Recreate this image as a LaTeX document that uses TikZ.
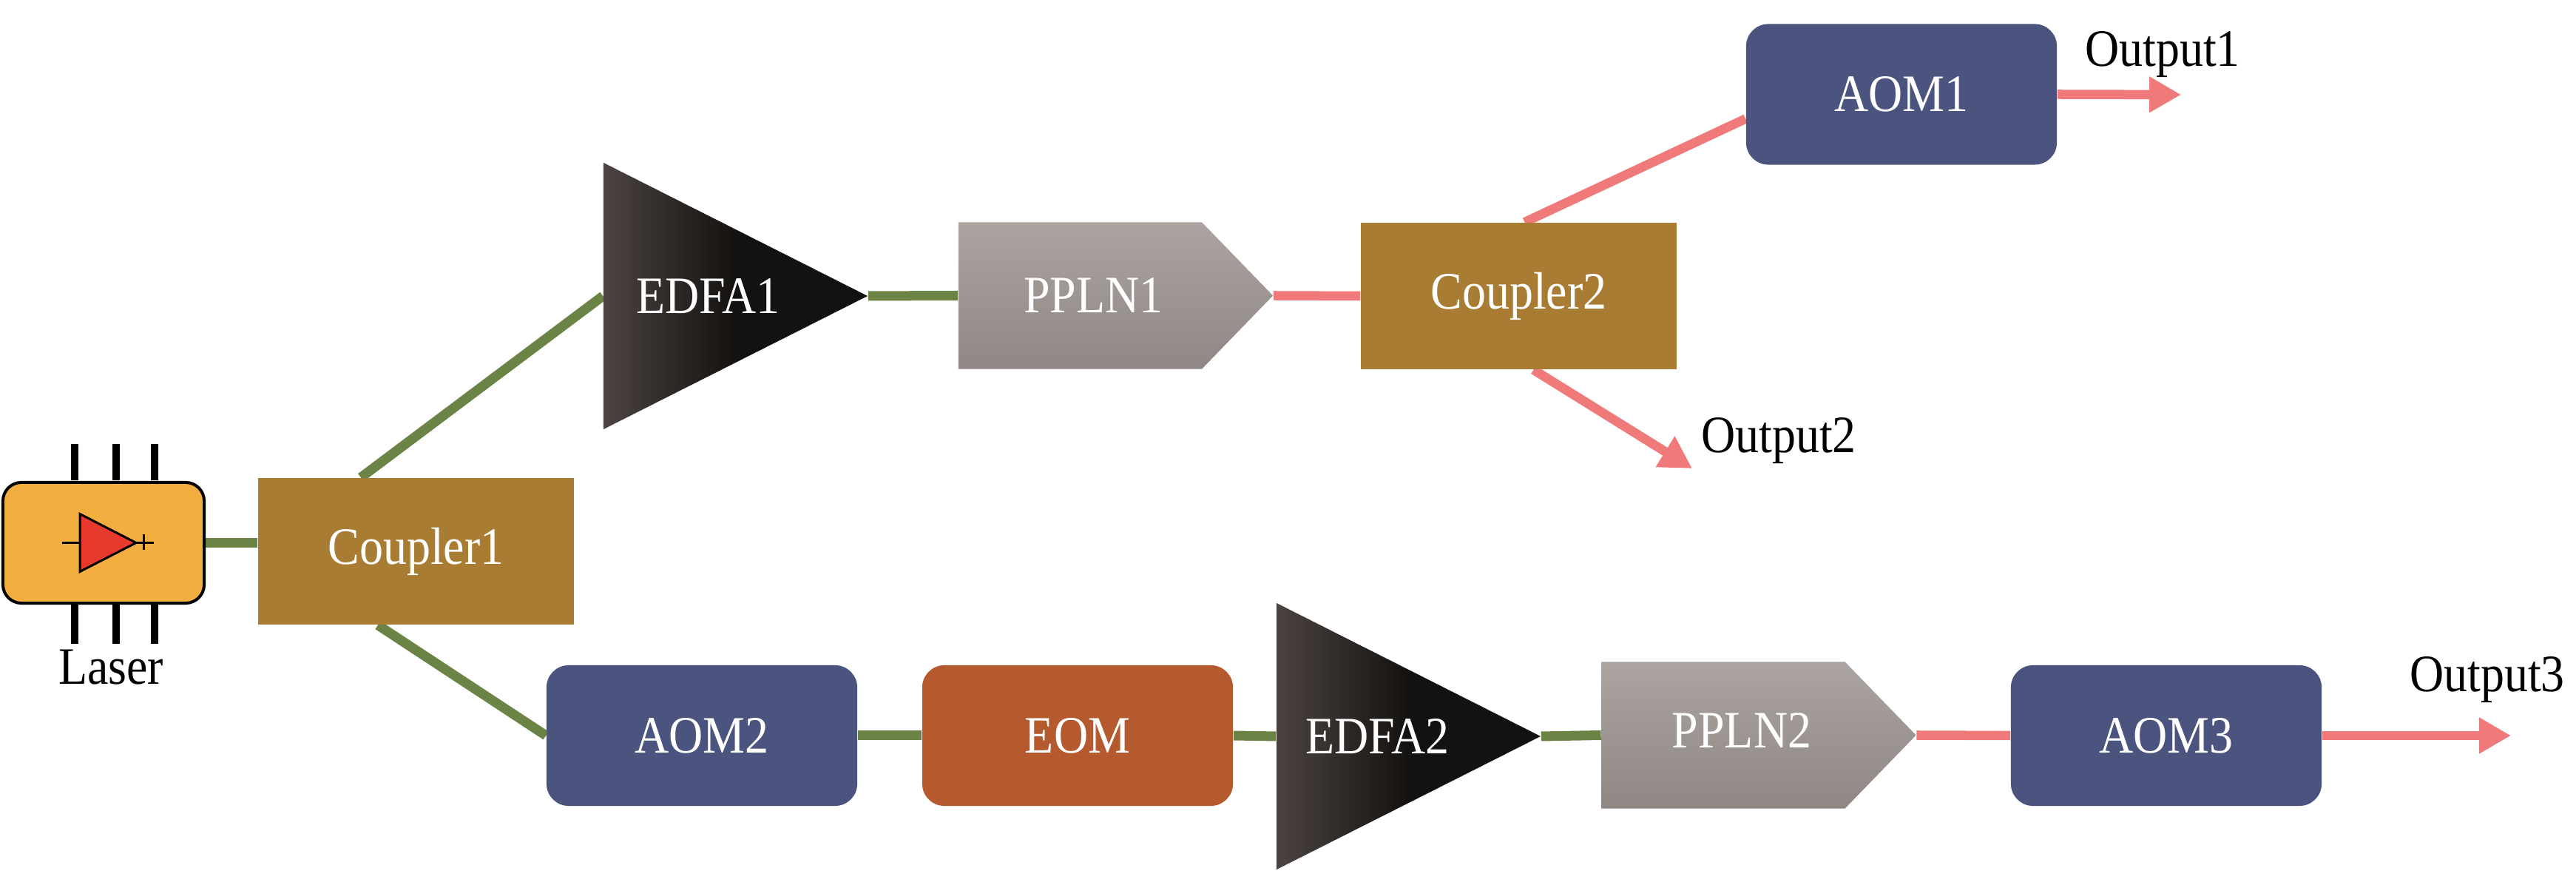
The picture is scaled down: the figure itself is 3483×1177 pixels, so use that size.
\documentclass[tikz,border=0pt]{standalone}
\usepackage{fontspec}
\setmainfont[FakeStretch=0.9]{Liberation Serif}
\usetikzlibrary{arrows.meta,backgrounds}

\definecolor{fibre}{RGB}{107,132,70}
\definecolor{beam}{RGB}{240,122,122}
\definecolor{couplerc}{RGB}{168,125,51}
\definecolor{aomc}{RGB}{74,84,126}
\definecolor{eomc}{RGB}{180,90,46}
\definecolor{laserc}{RGB}{242,174,63}
\definecolor{diodec}{RGB}{232,57,46}
\definecolor{pplntop}{RGB}{171,164,160}
\definecolor{pplnbot}{RGB}{143,135,132}
\definecolor{edfaleft}{RGB}{76,68,65}
\definecolor{edfaright}{RGB}{20,18,16}

\tikzset{
	txt/.style={font=\fontsize{20.2}{24}\selectfont, inner sep=0pt},
	wtxt/.style={txt, text=white},
	coupler/.style={wtxt, fill=couplerc, minimum width=4.27cm, minimum height=1.98cm},
	modbox/.style={wtxt, rounded corners=0.3cm, minimum width=4.2cm, minimum height=1.9cm},
	edfa/.style={wtxt, fill=white, minimum width=3.57cm, minimum height=3.6cm,
		path picture={\shade[left color=edfaleft, right color=edfaright, middle color=edfaright]
			(path picture bounding box.north west) -- (path picture bounding box.east)
			-- (path picture bounding box.south west) -- cycle;}},
	ppln/.style={wtxt, fill=white, minimum width=4.25cm, minimum height=1.98cm,
		path picture={\shade[top color=pplntop, bottom color=pplnbot]
			(path picture bounding box.north west) -- ([xshift=-0.96cm]path picture bounding box.north east)
			-- (path picture bounding box.east) -- ([xshift=-0.96cm]path picture bounding box.south east)
			-- (path picture bounding box.south west) -- cycle;}},
	fibre line/.style={draw=fibre, line width=0.13cm},
	beam line/.style={draw=beam, line width=0.125cm},
	out arrow/.style={beam line, -{Triangle[length=0.43cm,width=0.46cm]}},
}

\begin{document}
\begin{tikzpicture}[x=0.01cm, y=-0.01cm]
	\useasboundingbox (0,0) rectangle (3483,1177);

	% laser
	\node[draw, line width=0.04cm, fill=laserc, rounded corners=0.25cm, minimum width=2.72cm, minimum height=1.63cm] (laser) at (140,733.5) {};
	\begin{scope}[shift={(laser.center)}]
		\foreach \px in {-39,17,69} {
			\draw[line width=0.09cm] (\px,-84) -- (\px,-133.5);
			\draw[line width=0.09cm] (\px,84) -- (\px,136.5);
		}
		\draw[fill=diodec, line width=0.03cm] (-32,-39) -- (44,0) -- (-32,39) -- cycle;
		\draw[line width=0.03cm] (-56,0) -- (-32,0) (44,0) -- (68,0) (54,-11) -- (54,10);
	\end{scope}
	\node[txt, anchor=base] (laserlab) at (150,925) {Laser};

	% upper branch
	\node[coupler] (coupler1) at (562.5,745) {Coupler1};
	\node[edfa, label={[wtxt, xshift=-0.37cm]center:EDFA1}] (edfa1) at (994.5,400) {};
	\node[ppln, label={[wtxt, xshift=-0.3cm]center:PPLN1}] (ppln1) at (1508.5,399.5) {};
	\node[coupler] (coupler2) at (2053.5,400) {Coupler2};
	\node[modbox, fill=aomc] (aom1) at (2571,127.5) {AOM1};

	% lower branch
	\node[modbox, fill=aomc] (aom2) at (949,994) {AOM2};
	\node[modbox, fill=eomc] (eom) at (1457,994) {EOM};
	\node[edfa, label={[wtxt, xshift=-0.42cm]center:EDFA2}] (edfa2) at (1904.5,995) {};
	\node[ppln, label={[wtxt, xshift=-0.23cm, yshift=0.07cm]center:PPLN2}] (ppln2) at (2378,993.5) {};
	\node[modbox, fill=aomc] (aom3) at (2929,994) {AOM3};

	% outputs
	\coordinate (out1) at (2949,128);
	\coordinate (out2) at (2288,633);
	\coordinate (out3) at (3395,994);
	\node[txt, anchor=base] (lab1) at (2924,90) {Output1};
	\node[txt, anchor=base] (lab2) at (2405,612) {Output2};
	\node[txt, anchor=base] (lab3) at (3363,935) {Output3};

	\begin{pgfonlayer}{background}
		\draw[fibre line] (laser.east) -- (laser.east -| coupler1.west);
		\draw[fibre line] ([xshift=-0.745cm]coupler1.north) -- (edfa1.west);
		\draw[fibre line] ([xshift=-0.515cm]coupler1.south) -- (aom2.west);
		\draw[fibre line] (edfa1.east) -- (ppln1.west);
		\draw[fibre line] (aom2.east) -- (eom.west);
		\draw[fibre line] (eom.east) -- (edfa2.west);
		\draw[fibre line] (edfa2.east) -- (ppln2.west);
		\draw[beam line] (ppln1.east) -- (coupler2.west);
		\draw[beam line] ([xshift=0.08cm]coupler2.north) -- ([yshift=-0.33cm]aom1.west);
		\draw[out arrow] ([xshift=0.2cm]coupler2.south) -- (out2);
		\draw[out arrow] (aom1.east) -- (out1);
		\draw[beam line] (ppln2.east) -- (aom3.west);
		\draw[out arrow] (aom3.east) -- (out3);
	\end{pgfonlayer}
\end{tikzpicture}
\end{document}
